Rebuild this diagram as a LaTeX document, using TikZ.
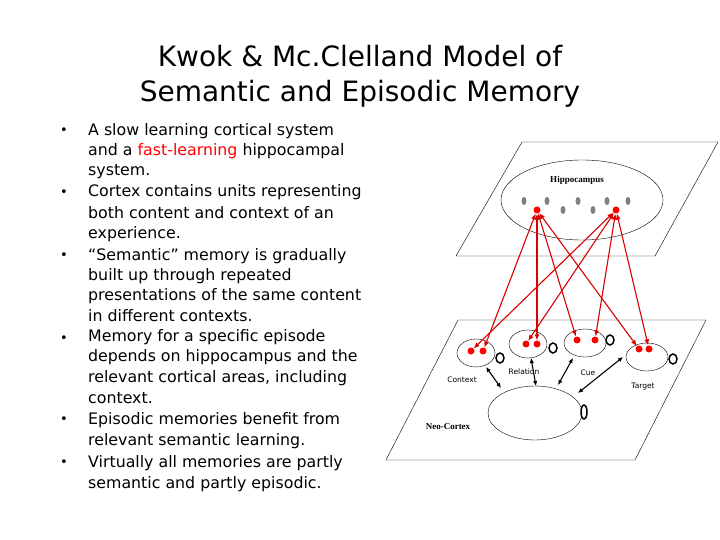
\documentclass[tikz,border=0pt]{standalone}
\usepackage{fontspec}
\usetikzlibrary{shapes.geometric,arrows.meta}
\setmainfont{DejaVu Sans}
\newfontfamily\serifl{Liberation Serif}
\begin{document}
\begin{tikzpicture}[x=1pt,y=-1pt,
  txt/.style={anchor=west,inner sep=0pt,font=\fontsize{15.8}{17}\selectfont},
  bul/.style={anchor=center,inner sep=0pt,font=\fontsize{13}{17}\selectfont},
  rarr/.style={draw=red!85!black,line width=1.1pt,{Latex[length=6pt,width=5pt]}-{Latex[length=6pt,width=5pt]}},
  blk/.style={draw=black,line width=1.1pt,{Latex[length=5pt,width=4.5pt]}-{Latex[length=5pt,width=4.5pt]}},
  rdot/.style={circle,fill=red,inner sep=0pt,minimum size=7pt},
  gdot/.style={ellipse,fill=gray,inner sep=0pt,minimum width=5pt,minimum height=8pt},
  unit/.style={draw,ellipse,inner sep=0pt},
  lp/.style={draw,line width=1.5pt},
  small/.style={inner sep=0pt,font=\fontsize{7.5}{8}\selectfont}]
\useasboundingbox (0,0) rectangle (720,540);
\fill[white] (0,0) rectangle (720,540);
\node[inner sep=0pt,align=center,font=\fontsize{28}{35}\selectfont] (title) at (360,76) {Kwok \& Mc.Clelland Model of\\Semantic and Episodic Memory};
\foreach \y/\n in {131/b1,193/b2,256/b3,339/b4,420/b5,463/b6} \node[bul] (\n) at (64,\y) {•};
\foreach \y/\t [count=\i] in {131/A slow learning cortical system,
  151/and a {\color{red}fast-learning} hippocampal,
  172/system.,
  192/Cortex contains units representing,
  213/both content and context of an,
  234/experience.,
  256/“Semantic” memory is gradually,
  276/built up through repeated,
  296/presentations of the same content,
  316/in different contexts.,
  337/Memory for a specific episode,
  357/depends on hippocampus and the,
  378/{relevant cortical areas, including},
  398/context.,
  420/Episodic memories benefit from,
  441/relevant semantic learning.,
  463/Virtually all memories are partly,
  484/semantic and partly episodic.}
  \node[txt] (l\i) at (88,\y) {\t};
% hippocampus plane
\draw (522,142) -- (718,142) -- (655,256) -- (456,256) -- cycle;
\node[unit,minimum width=162pt,minimum height=80pt] (hip) at (582,200) {};
\node[inner sep=0pt,font=\serifl\bfseries\fontsize{9}{10}\selectfont] (hl) at (577,180) {Hippocampus};
\foreach \x/\y [count=\i] in {524/201,547/201,563/210,578/201,593/210,607/201,628/201}
  \node[gdot] (g\i) at (\x,\y) {};
\node[rdot] (hA) at (537,210) {};
\node[rdot] (hB) at (616,210) {};
% neocortex plane
\draw (458,320) -- (706,320) -- (635,460) -- (386,460) -- cycle;
\node[unit,minimum width=38pt,minimum height=28pt] (ctx) at (476,353) {};
\node[unit,minimum width=38pt,minimum height=28pt] (rel) at (528,344) {};
\node[unit,minimum width=42pt,minimum height=28pt] (cue) at (585,343) {};
\node[unit,minimum width=42pt,minimum height=28pt] (tgt) at (647,357) {};
\node[unit,minimum width=94pt,minimum height=54pt] (big) at (535,413) {};
\node[rdot] (c1) at (471,351) {}; \node[rdot] (c2) at (483,351) {};
\node[rdot] (r1) at (526,344) {}; \node[rdot] (r2) at (537,344) {};
\node[rdot] (u1) at (577,340) {}; \node[rdot] (u2) at (595,340) {};
\node[rdot] (t1) at (639,349) {}; \node[rdot] (t2) at (649,349) {};
\draw[rarr] (hA) -- (c2); \draw[rarr] (hA) -- (r2); \draw[rarr] (hA) -- (u1); \draw[rarr] (hA) -- (t1);
\draw[rarr] (hB) -- (c1); \draw[rarr] (hB) -- (r1); \draw[rarr] (hB) -- (u2); \draw[rarr] (hB) -- (t2);
% self loops
\draw[lp] (500,358) ellipse (4pt and 5pt);
\draw[lp] (553,348) ellipse (4pt and 5pt);
\draw[lp] (610,340) ellipse (4pt and 5pt);
\draw[lp] (673,359) ellipse (4pt and 5pt);
\draw[lp] (584,412) ellipse (3pt and 7pt);
% black arrows
\coordinate (a1) at (486,367); \coordinate (a2) at (501,388);
\coordinate (b1) at (531,358); \coordinate (b2) at (536,386);
\coordinate (d1) at (573,358); \coordinate (d2) at (558,385);
\coordinate (e1) at (623,357); \coordinate (e2) at (578,393);
\draw[blk] (a1) -- (a2); \draw[blk] (b1) -- (b2); \draw[blk] (d1) -- (d2); \draw[blk] (e1) -- (e2);
\node[small] (lc) at (462,380) {Context};
\node[small] (lr) at (524,372) {Relation};
\node[small] (lu) at (588,373) {Cue};
\node[small] (lt) at (643,387) {Target};
\node[inner sep=0pt,font=\serifl\bfseries\fontsize{9}{10}\selectfont] (ln) at (448,427) {Neo-Cortex};
\end{tikzpicture}
\end{document}
